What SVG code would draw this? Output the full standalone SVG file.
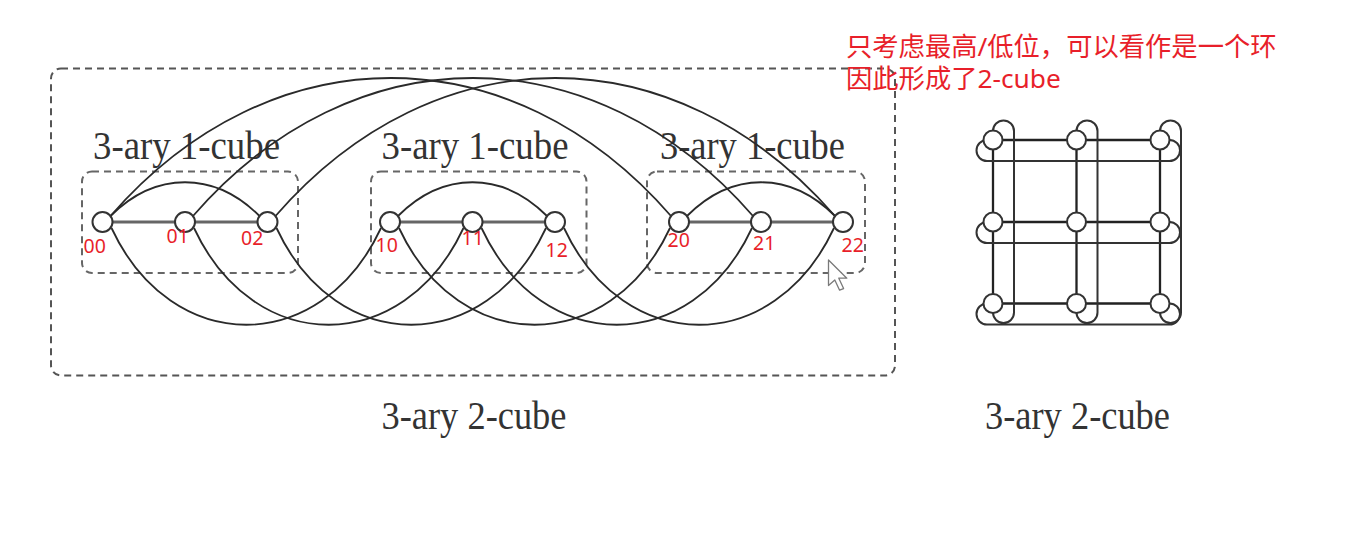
<svg xmlns="http://www.w3.org/2000/svg" width="1354" height="541" viewBox="0 0 1354 541">
<style>
  .box-outer { fill: none; stroke: #555; stroke-width: 2; stroke-dasharray: 7 5; }
  .box-inner { fill: none; stroke: #666; stroke-width: 2; stroke-dasharray: 7 5; }
  .axis { fill: none; stroke: #666; stroke-width: 3; }
  .arc { fill: none; stroke: #2a2a2a; stroke-width: 1.8; }
  .grid { fill: none; stroke: #222; stroke-width: 2.3; }
  .wrap { fill: none; stroke: #333; stroke-width: 2; }
  .node { fill: #fff; stroke: #333; stroke-width: 2; }
  .title { font-family: "Liberation Serif", "Times New Roman", serif; font-size: 39px; fill: #333; }
  .id { font-family: "Noto Sans", "Open Sans", sans-serif; font-size: 19.5px; fill: #e81f2a; }
  .note { font-family: "Noto Sans", "Noto Sans CJK SC", sans-serif; font-size: 26.3px; fill: #e81f2a; }
</style>
<rect width="1354" height="541" fill="#fff"/>

<g id="boxes">
  <rect class="box-outer" x="51" y="68.5" width="844" height="307" rx="10"/>
  <rect class="box-inner" x="82" y="171.5" width="216" height="101.5" rx="10"/>
  <rect class="box-inner" x="371" y="171.5" width="215.5" height="101.5" rx="10"/>
  <rect class="box-inner" x="647" y="171.5" width="218" height="101.5" rx="10"/>
</g>

<g id="labels">
  <text class="title" x="93" y="159" textLength="187" lengthAdjust="spacingAndGlyphs">3-ary 1-cube</text>
  <text class="title" x="381.5" y="159" textLength="187" lengthAdjust="spacingAndGlyphs">3-ary 1-cube</text>
  <text class="title" x="660" y="159" textLength="185" lengthAdjust="spacingAndGlyphs">3-ary 1-cube</text>
  <text class="title" x="381.5" y="429" textLength="185" lengthAdjust="spacingAndGlyphs">3-ary 2-cube</text>
  <text class="title" x="985" y="429" textLength="185" lengthAdjust="spacingAndGlyphs">3-ary 2-cube</text>
  <text class="note" x="846" y="56">只考虑最高/低位，可以看作是一个环</text>
  <text class="note" x="846" y="88">因此形成了2-cube</text>
</g>

<g id="connectors">
  <path class="axis" d="M102.5 222 H267.5 M390 222 H555 M679 222 H843"/>
  <path class="arc" d="M110.5 216 C155.5 171 214.5 171 259.5 216"/>
  <path class="arc" d="M398 216 C443 171 502 171 547 216"/>
  <path class="arc" d="M687 216 C732 171 790 171 835 216"/>
  <path class="arc" d="M110.5 216 C270.5 32 511 32 671 216"/>
  <path class="arc" d="M193 216 C353 32 593 32 753 216"/>
  <path class="arc" d="M275.5 216 C435.5 32 675 32 835 216"/>
  <path class="arc" d="M111.5 228 C171.5 357 321 357 381 228"/>
  <path class="arc" d="M194 228 C254 357 403.5 357 463.5 228"/>
  <path class="arc" d="M276.5 228 C336.5 357 486 357 546 228"/>
  <path class="arc" d="M399 228 C459 357 610 357 670 228"/>
  <path class="arc" d="M481.5 228 C541.5 357 692 357 752 228"/>
  <path class="arc" d="M564 228 C624 357 774 357 834 228"/>
  <path class="grid" d="M993 140 H1160 M993 222 H1160 M993 303.5 H1160 M993 140 V303.5 M1076.5 140 V303.5 M1160 140 V303.5"/>
  <path class="wrap" d="M987 140 A10.5 10.5 0 0 0 987 161 H1169.5 A10.5 10.5 0 0 0 1169.5 140"/>
  <path class="wrap" d="M987 222 A10.5 10.5 0 0 0 987 243 H1169.5 A10.5 10.5 0 0 0 1169.5 222"/>
  <path class="wrap" d="M987 303.5 A10.5 10.5 0 0 0 987 324.5 H1169.5 A10.5 10.5 0 0 0 1169.5 303.5"/>
  <path class="wrap" d="M993 131 A10.5 10.5 0 0 1 1014 131 V312.5 A10.5 10.5 0 0 1 993 312.5"/>
  <path class="wrap" d="M1076.5 131 A10.5 10.5 0 0 1 1097.5 131 V312.5 A10.5 10.5 0 0 1 1076.5 312.5"/>
  <path class="wrap" d="M1160 131 A10.5 10.5 0 0 1 1181 131 V312.5 A10.5 10.5 0 0 1 1160 312.5"/>
</g>

<g id="n00"><circle class="node" cx="102.5" cy="222" r="10"/><text class="id" x="83.5" y="253">00</text></g>
<g id="n01"><circle class="node" cx="185" cy="222" r="10"/><text class="id" x="166.5" y="243">01</text></g>
<g id="n02"><circle class="node" cx="267.5" cy="222" r="10"/><text class="id" x="241" y="245">02</text></g>
<g id="n10"><circle class="node" cx="390" cy="222" r="10"/><text class="id" x="375.5" y="251.5">10</text></g>
<g id="n11"><circle class="node" cx="472.5" cy="222" r="10"/><text class="id" x="461.5" y="245">11</text></g>
<g id="n12"><circle class="node" cx="555" cy="222" r="10"/><text class="id" x="545.5" y="257">12</text></g>
<g id="n20"><circle class="node" cx="679" cy="222" r="10"/><text class="id" x="667.5" y="246.5">20</text></g>
<g id="n21"><circle class="node" cx="761" cy="222" r="10"/><text class="id" x="753" y="250">21</text></g>
<g id="n22"><circle class="node" cx="843" cy="222" r="10"/><text class="id" x="841.5" y="251.5">22</text></g>

<g id="g00"><circle class="node" cx="993" cy="140" r="9.5"/></g>
<g id="g01"><circle class="node" cx="1076.5" cy="140" r="9.5"/></g>
<g id="g02"><circle class="node" cx="1160" cy="140" r="9.5"/></g>
<g id="g10"><circle class="node" cx="993" cy="222" r="9.5"/></g>
<g id="g11"><circle class="node" cx="1076.5" cy="222" r="9.5"/></g>
<g id="g12"><circle class="node" cx="1160" cy="222" r="9.5"/></g>
<g id="g20"><circle class="node" cx="993" cy="303.5" r="9.5"/></g>
<g id="g21"><circle class="node" cx="1076.5" cy="303.5" r="9.5"/></g>
<g id="g22"><circle class="node" cx="1160" cy="303.5" r="9.5"/></g>

<g id="cursor">
  <polygon points="828.5,260 828.5,285.5 834.8,280 839.6,290.2 843.6,288.6 838.8,278.2 846.8,278.2" fill="#fff" stroke="#7a7a7a" stroke-width="1.3" stroke-linejoin="round"/>
</g>
</svg>
